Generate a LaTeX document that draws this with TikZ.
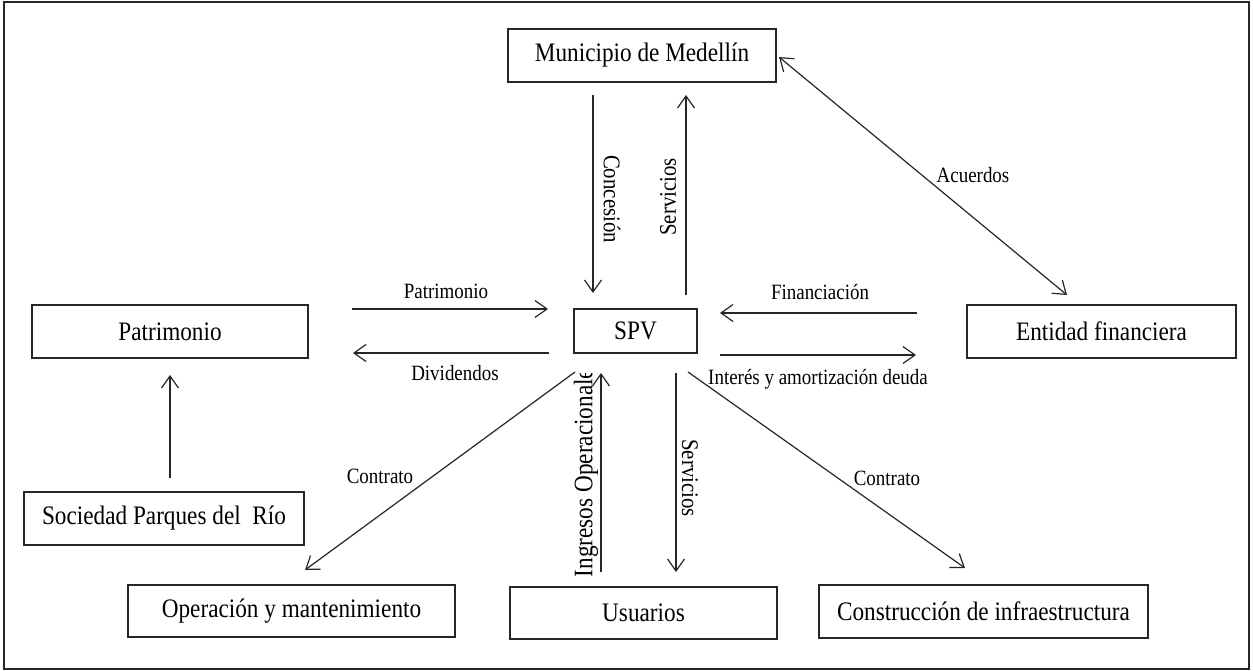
\documentclass[tikz,border=0pt]{standalone}
\usepackage{fontspec}
\setmainfont[FakeStretch=0.87]{Liberation Serif}
\usetikzlibrary{arrows.meta}
\tikzset{
  box/.style={draw=black!85, line width=1.3pt, minimum height=53pt, inner sep=0pt,
    font=\fontsize{26.7}{30}\selectfont},
  lbl/.style={font=\fontsize{21.8}{25}\selectfont, inner sep=0pt},
  vlbl/.style={font=\fontsize{23.9}{27}\selectfont, inner sep=0pt},
  conn/.style={line width=1.2pt, draw=black!85,
    -{Straight Barb[length=12pt,width=17pt,line width=1.2pt]}},
  conn2/.style={line width=1.2pt, draw=black!85,
    {Straight Barb[length=12pt,width=17pt,line width=1.2pt]}-{Straight Barb[length=12pt,width=17pt,line width=1.2pt]}},
  frame/.style={draw=black!85, line width=2.5pt}
}
\begin{document}
\begin{tikzpicture}[x=1pt,y=-1pt]
\useasboundingbox (0,0) rectangle (1253,671);
\draw[frame] (4,2) rectangle (1249,669);

% boxes
\node[box, minimum width=268pt] (mun) at (642,55.5) {Municipio de Medellín};
\node[box, minimum width=123pt, minimum height=44pt] (spv) at (635.5,331) {SPV};
\node[box, minimum width=276pt] (pat) at (170,331.5) {Patrimonio};
\node[box, minimum width=269pt] (ent) at (1101.5,331.5) {Entidad financiera};
\node[box, minimum width=280pt] (soc) at (164,518.5) {Sociedad Parques del\ \ Río};
\node[box, minimum width=327pt, minimum height=52pt] (op) at (291.5,611) {Operación y mantenimiento};
\node[box, minimum width=267pt, minimum height=52pt] (usu) at (643.5,613) {Usuarios};
\node[box, minimum width=329pt] (con) at (983.5,611.5) {Construcción de infraestructura};

% connector end points
\coordinate (c1a) at (593,95);   \coordinate (c1b) at (593,293);
\coordinate (c2a) at (686,295);  \coordinate (c2b) at (686,95);
\coordinate (c3a) at (352,309);  \coordinate (c3b) at (548,309);
\coordinate (c4a) at (549,353);  \coordinate (c4b) at (353,353);
\coordinate (c5a) at (917,313);  \coordinate (c5b) at (720,313);
\coordinate (c6a) at (720,355);  \coordinate (c6b) at (916,355);
\coordinate (c7a) at (1067,295); \coordinate (c7b) at (779,57);
\coordinate (c8a) at (575,372);  \coordinate (c8b) at (305,570);
\coordinate (c9a) at (601,572);  \coordinate (c9b) at (601,373);
\coordinate (c10a) at (676,373); \coordinate (c10b) at (676,572);
\coordinate (c11a) at (688,372); \coordinate (c11b) at (965,568);
\coordinate (c12a) at (170,478); \coordinate (c12b) at (170,375);

% connectors
\draw[conn] (c1a) -- (c1b);
\draw[conn] (c2a) -- (c2b);
\draw[conn] (c3a) -- (c3b);
\draw[conn] (c4a) -- (c4b);
\draw[conn] (c5a) -- (c5b);
\draw[conn] (c6a) -- (c6b);
\draw[conn2] (c7a) -- (c7b);
\draw[conn] (c8a) -- (c8b);
\draw[conn] (c9a) -- (c9b);
\draw[conn] (c10a) -- (c10b);
\draw[conn] (c11a) -- (c11b);
\draw[conn] (c12a) -- (c12b);

% labels
\node[vlbl, rotate=-90] (l1) at (612,199) {Concesión};
\node[vlbl, rotate=90] (l2) at (668,197) {Servicios};
\node[lbl] (l3) at (446,291) {Patrimonio};
\node[lbl] (l4) at (455,373) {Dividendos};
\node[lbl] (l5) at (820,292) {Financiación};
\node[lbl] (l6) at (818,379) {Interés y amortización deuda};
\node[lbl] (l7) at (973,175) {Acuerdos};
\node[lbl] (l8) at (380,476) {Contrato};
\node[lbl] (l9) at (887,478) {Contrato};
\node[vlbl, rotate=-90] (l10) at (690,478) {Servicios};
\begin{scope}
  \clip (560,373) rectangle (598,600);
  \node[box, draw=none, minimum height=0pt, rotate=90] (l11) at (586,468.5) {Ingresos Operacionales};
\end{scope}
\end{tikzpicture}
\end{document}
